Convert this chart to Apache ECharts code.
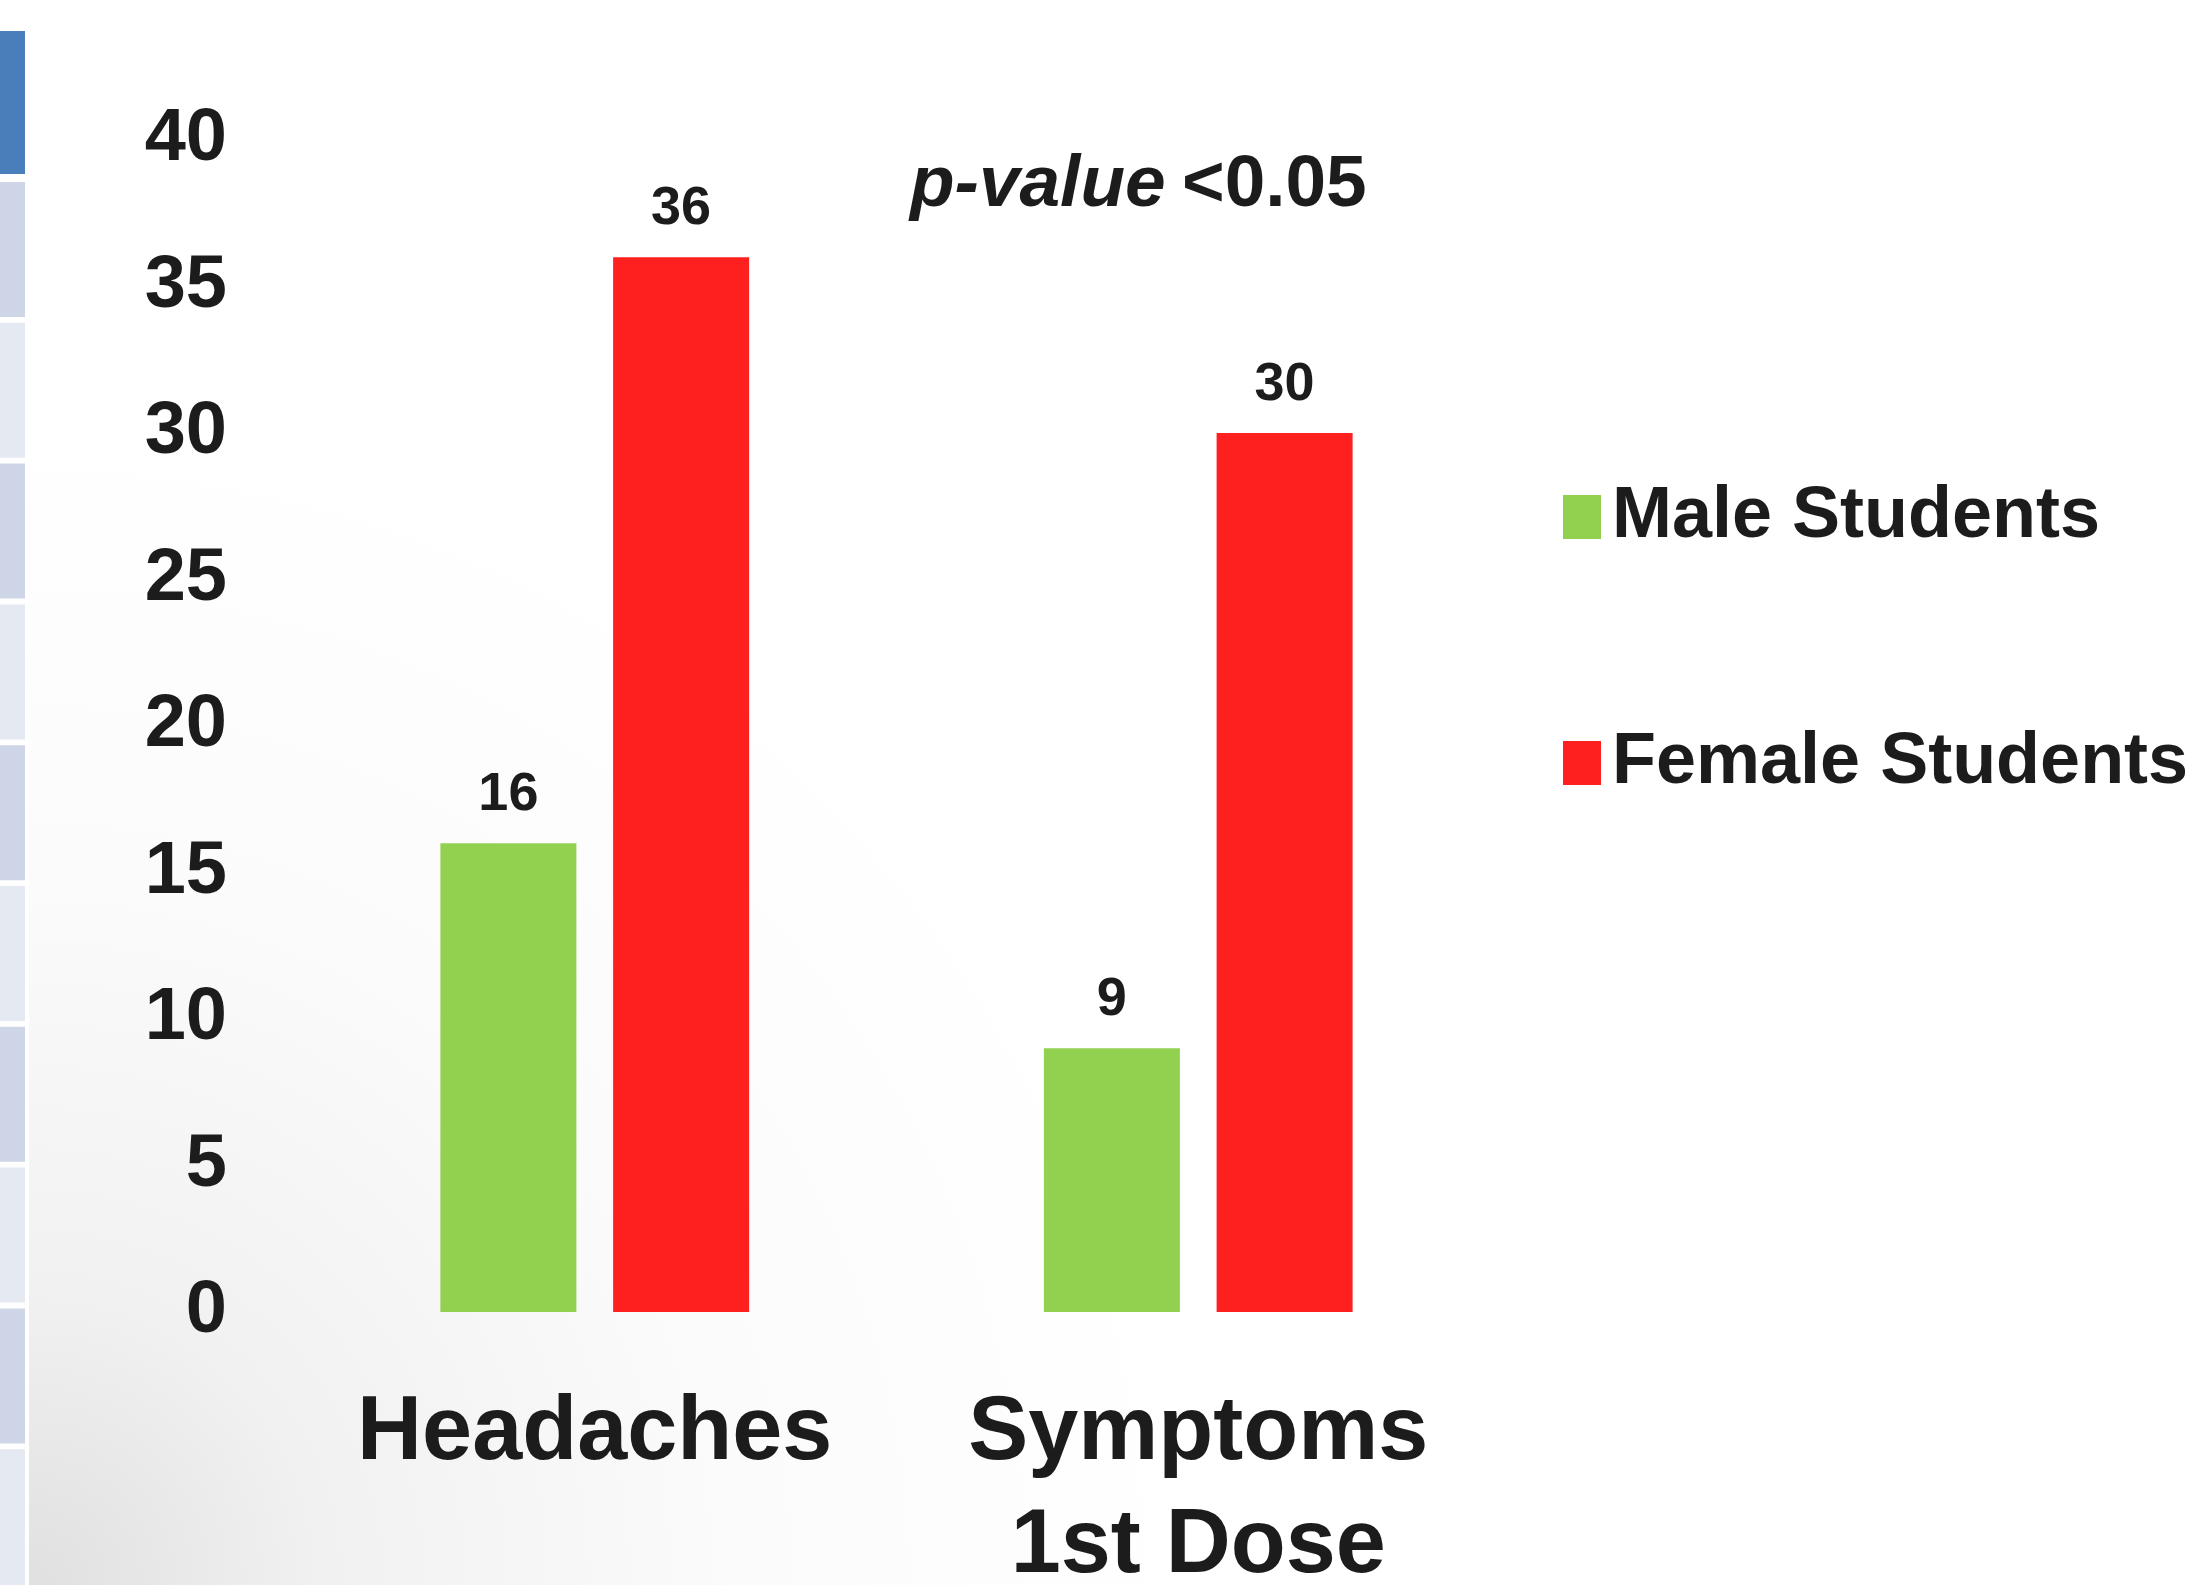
<!DOCTYPE html>
<html>
<head>
<meta charset="utf-8">
<title>Headaches and symptoms after the 1st dose by sex</title>
<script src="https://cdn.jsdelivr.net/npm/echarts@6/dist/echarts.min.js"></script>
<style>
  html, body { margin: 0; padding: 0; background: #ffffff; }
  #chart { width: 2212px; height: 1585px; }
</style>
</head>
<body>
<div id="chart"></div>
<script>
// Categories and counts per group
const categories = ['Headaches', 'Symptoms\n1st Dose'];
const maleStudents = [16, 9];
const femaleStudents = [36, 30];
const seriesNames = ['Male Students', 'Female Students'];
const yTicks = { min: 0, max: 40, step: 5 };
const note = { label: 'p-value', tail: '<0.05' };

const FONT = '"Liberation Sans", Arial, Helvetica, sans-serif';
const INK = '#1c1c1c';
const GREEN = '#92d050';
const RED = '#fe1f1f';

// Slide decoration: banded table column on the left edge and a soft shaded backdrop
const decor = [];
decor.push({
  type: 'rect', z: -20, silent: true,
  shape: { x: 29, y: 19, width: 2183, height: 1566 },
  style: {
    fill: {
      type: 'radial', x: 0, y: 1, r: 0.75,
      colorStops: [
        { offset: 0, color: '#e0e0e0' },
        { offset: 0.25, color: '#f1f1f1' },
        { offset: 0.6, color: '#fbfbfb' },
        { offset: 1, color: '#ffffff' }
      ]
    }
  }
});
decor.push({
  type: 'rect', z: -10, silent: true,
  shape: { x: 0, y: 31, width: 25, height: 143 },
  style: { fill: '#4a7ebb' }
});
for (let i = 0; i < 10; i++) {
  const top = 182 + i * 140.8;
  decor.push({
    type: 'rect', z: -10, silent: true,
    shape: { x: 0, y: top, width: 25, height: i === 9 ? 1585 - top : 135 },
    style: { fill: i % 2 === 0 ? '#cdd5e6' : '#e5e9f2' }
  });
}
// Significance note above the plot
decor.push({
  type: 'text', z: 10,
  style: {
    x: 910, y: 186, text: note.label,
    font: 'italic bold 73px ' + FONT, fill: INK,
    textAlign: 'left', textVerticalAlign: 'middle'
  }
});
decor.push({
  type: 'text', z: 10,
  style: {
    x: 1182, y: 186, text: note.tail,
    font: 'bold 73px ' + FONT, fill: INK,
    textAlign: 'left', textVerticalAlign: 'middle'
  }
});

const labelStyle = {
  show: true,
  position: 'top',
  distance: 21,
  fontFamily: FONT,
  fontSize: 54,
  fontWeight: 'bold',
  color: INK
};

const chart = echarts.init(document.getElementById('chart'), null, { renderer: 'canvas' });
chart.setOption({
  backgroundColor: '#ffffff',
  animation: false,
  textStyle: { fontFamily: FONT },
  grid: {
    left: 293, right: 712, top: 140, bottom: 273,
    containLabel: false,
    outerBoundsMode: 'none'
  },
  legend: {
    orient: 'vertical',
    left: 1558,
    top: 472,
    itemGap: 166,
    itemWidth: 38,
    itemHeight: 44,
    icon: 'rect',
    data: seriesNames,
    textStyle: {
      fontFamily: FONT,
      fontSize: 72,
      fontWeight: 'bold',
      color: INK,
      lineHeight: 80,
      padding: [0, 0, 0, 6]
    }
  },
  xAxis: {
    type: 'category',
    data: categories,
    axisLine: { show: false },
    axisTick: { show: false },
    splitLine: { show: false },
    axisLabel: {
      interval: 0,
      margin: 66,
      fontFamily: FONT,
      fontSize: 90,
      fontWeight: 'bold',
      lineHeight: 113,
      color: INK
    }
  },
  yAxis: {
    type: 'value',
    min: yTicks.min,
    max: yTicks.max,
    interval: yTicks.step,
    axisLine: { show: false },
    axisTick: { show: false },
    splitLine: { show: false },
    axisLabel: {
      margin: 66,
      fontFamily: FONT,
      fontSize: 74,
      fontWeight: 'bold',
      color: INK
    }
  },
  series: [
    {
      name: seriesNames[0],
      type: 'bar',
      data: maleStudents,
      barWidth: 136,
      barGap: '27%',
      itemStyle: { color: GREEN },
      label: labelStyle
    },
    {
      name: seriesNames[1],
      type: 'bar',
      data: femaleStudents,
      barWidth: 136,
      barGap: '27%',
      itemStyle: { color: RED },
      label: labelStyle
    }
  ],
  graphic: decor
});
</script>
</body>
</html>
